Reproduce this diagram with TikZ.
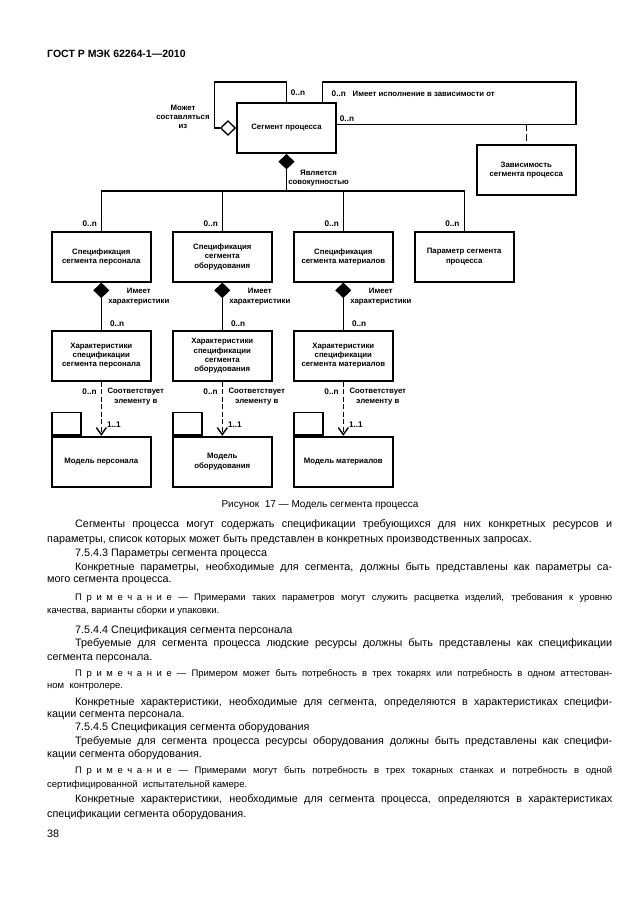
\documentclass[tikz,border=0pt]{standalone}
\usepackage{fontspec}
\setmainfont{Liberation Sans}
\usetikzlibrary{arrows.meta,shapes.geometric}
\newcommand{\dfont}{\fontsize{7.8}{9.3}\selectfont\bfseries}
\newcommand{\mfont}{\fontsize{8.2}{9}\selectfont\bfseries}
\newcommand{\btext}{\fontsize{10.8}{13.5}\selectfont\spaceskip=0.278em plus 0.8em minus 0.12em\relax}
\newcommand{\ntext}{\fontsize{9.5}{12}\selectfont\spaceskip=0.278em plus 0.8em minus 0.12em\relax}
\newcommand{\prim}{П\kern4.6ptр\kern4.6ptи\kern4.6ptм\kern4.6ptе\kern4.6ptч\kern4.6ptа\kern4.6ptн\kern4.6ptи\kern4.6ptе}
\begin{document}
\begin{tikzpicture}[x=1pt,y=-1pt,
  box/.style={draw, line width=1.8pt, minimum width=99pt, minimum height=50pt, inner sep=1pt, align=center, font=\dfont},
  tabbox/.style={draw, line width=1.8pt, minimum width=29pt, minimum height=22.4pt, inner sep=0pt, anchor=south west},
  conn/.style={line width=1.4pt},
  dconn/.style={line width=1.4pt, dash pattern=on 5pt off 2.5pt, -{Straight Barb[length=7pt,width=10pt]}},
  odiam/.style={diamond, draw, fill=white, line width=1.3pt, minimum width=15pt, minimum height=14.5pt, inner sep=0pt},
  fdiam/.style={diamond, draw, fill=black, line width=1pt, minimum width=15pt, minimum height=14.5pt, inner sep=0pt},
  lab/.style={font=\dfont, align=center, inner sep=0pt},
  mult/.style={font=\mfont, inner sep=0pt},
  bl/.style={anchor=mid west, inner sep=0pt, font=\btext},
  nl/.style={anchor=mid west, inner sep=0pt, font=\ntext}]
\path[use as bounding box, fill=white] (0,0) rectangle (630,913);
% header
\node[anchor=mid west, inner sep=0pt, font=\fontsize{10.5}{12}\selectfont\bfseries] (hdr) at (47,55) {ГОСТ Р МЭК 62264-1—2010};
% main boxes
\node[box] (seg) at (286.5,128) {Сегмент процесса};
\node[box] (dep) at (526.3,170) {Зависимость\\сегмента процесса};
\node[box] (sp1) at (101.3,256.7) {Спецификация\\сегмента персонала};
\node[box] (sp2) at (222.3,256.7) {Спецификация\\сегмента\\оборудования};
\node[box] (sp3) at (343.3,256.7) {Спецификация\\сегмента материалов};
\node[box] (sp4) at (464.2,256.7) {Параметр сегмента\\процесса};
\node[box] (ch1) at (101.3,355.8) {Характеристики\\спецификации\\сегмента персонала};
\node[box] (ch2) at (222.3,355.8) {Характеристики\\спецификации\\сегмента\\оборудования};
\node[box] (ch3) at (343.3,355.8) {Характеристики\\спецификации\\сегмента материалов};
\node[box] (pk1) at (101.3,461.7) {Модель персонала};
\node[box] (pk2) at (222.3,461.7) {Модель\\оборудования};
\node[box] (pk3) at (343.3,461.7) {Модель материалов};
\node[tabbox] (tb1) at (pk1.north west) {};
\node[tabbox] (tb2) at (pk2.north west) {};
\node[tabbox] (tb3) at (pk3.north west) {};
% self loop with hollow diamond
\node[odiam, anchor=east] (hd) at (seg.west) {};
\coordinate (sltop) at (214.3,82);
\draw[conn] (hd.west) -| (sltop) -| (seg.north);
\node[mult] (m0) at (298,93) {0..n};
\node[lab] (l0) at (183,117) {Может\\составляться\\из};
% dependency loop
\coordinate (dtl) at (322.7,82);
\coordinate (dbr) at (576,124.3);
\draw[conn] (seg.north -| dtl) -- (dtl) -| (dbr) -- (seg.east |- dbr);
\draw[line width=1.4pt, dash pattern=on 7pt off 3pt] (dep.north |- dbr) -- (dep.north);
\node[mult, anchor=west] (m1) at (331.5,94) {0..n};
\node[lab, anchor=west] (l1) at (352.5,94) {Имеет исполнение в зависимости от};
\node[mult] (m2) at (347,118.3) {0..n};
% composition
\node[fdiam, anchor=north] (cd) at (seg.south) {};
\coordinate (busy) at (0,191);
\draw[conn] (cd.south) -- (cd.south |- busy);
\draw[conn] (sp1.north) -- (sp1.north |- busy) -- (sp4.north |- busy) -- (sp4.north);
\draw[conn] (sp2.north) -- (sp2.north |- busy);
\draw[conn] (sp3.north) -- (sp3.north |- busy);
\node[lab] (l2) at (318.5,178) {Является\\совокупностью};
\node[mult, anchor=east] (m3) at (97,223.3) {0..n};
\node[mult, anchor=east] (m4) at (218,223.3) {0..n};
\node[mult, anchor=east] (m5) at (339,223.3) {0..n};
\node[mult, anchor=east] (m6) at (459.7,223.3) {0..n};
% has characteristics
\foreach \i/\xx in {1/101.3, 2/222.3, 3/343.3} {
  \node[fdiam, anchor=north] (fd\i) at (sp\i.south) {};
  \draw[conn] (fd\i.south) -- (ch\i.north);
  \node[lab] (hc\i) at (\xx+37.5,296.7) {Имеет\\характеристики};
  \node[mult, anchor=west] (mc\i) at (\xx+8.5,324) {0..n};
  \draw[dconn] (ch\i.south) -- (pk\i.north);
  \node[mult, anchor=east] (md\i) at (\xx-4.5,391.7) {0..n};
  \node[lab] (ce\i) at (\xx+34.5,396.7) {Соответствует\\элементу в};
  \node[mult, anchor=west] (mo\i) at (\xx+5.5,424.3) {1..1};
}
% caption
\node[inner sep=0pt, font=\fontsize{10}{12}\selectfont] (cap) at (320,505) {Рисунок\ \ 17 — Модель сегмента процесса};
% body text
\node[bl] (t1) at (75,525) {\hbox to 537pt{Сегменты процесса могут содержать спецификации требующихся для них конкретных ресурсов и}};
\node[bl] (t2) at (47,540) {параметры, список которых может быть представлен в конкретных производственных запросах.};
\node[bl] (t3) at (75,554) {7.5.4.3 Параметры сегмента процесса};
\node[bl] (t4) at (75,567.5) {\hbox to 537pt{Конкретные параметры, необходимые для сегмента, должны быть представлены как параметры са-}};
\node[bl] (t5) at (47,580) {мого сегмента процесса.};
\node[nl] (n1) at (75,598) {\hbox to 537pt{\prim{} — Примерами таких параметров могут служить расцветка изделий, требования к уровню}};
\node[nl] (n1b) at (47,611) {качества, варианты сборки и упаковки.};
\node[bl] (t6) at (75,631) {7.5.4.4 Спецификация сегмента персонала};
\node[bl] (t7) at (75,644) {\hbox to 537pt{Требуемые для сегмента процесса людские ресурсы должны быть представлены как спецификации}};
\node[bl] (t8) at (47,657.5) {сегмента персонала.};
\node[nl] (n2) at (75,673.5) {\hbox to 537pt{\prim{} — Примером может быть потребность в трех токарях или потребность в одном аттестован-}};
\node[nl] (n2b) at (47,686) {ном\ \ контролере.};
\node[bl] (t9) at (75,702.5) {\hbox to 537pt{Конкретные характеристики, необходимые для сегмента, определяются в характеристиках специфи-}};
\node[bl] (t10) at (47,715) {кации сегмента персонала.};
\node[bl] (t11) at (75,728) {7.5.4.5 Спецификация сегмента оборудования};
\node[bl] (t12) at (75,742) {\hbox to 537pt{Требуемые для сегмента процесса ресурсы оборудования должны быть представлены как специфи-}};
\node[bl] (t13) at (47,755) {кации сегмента оборудования.};
\node[nl] (n3) at (75,771) {\hbox to 537pt{\prim{} — Примерами могут быть потребность в трех токарных станках и потребность в одной}};
\node[nl] (n3b) at (47,785) {сертифицированной\ \ испытательной камере.};
\node[bl] (t14) at (75,800) {\hbox to 537pt{Конкретные характеристики, необходимые для сегмента процесса, определяются в характеристиках}};
\node[bl] (t15) at (47,815) {спецификации сегмента оборудования.};
\node[bl] (pg) at (47,835) {38};
\end{tikzpicture}
\end{document}
